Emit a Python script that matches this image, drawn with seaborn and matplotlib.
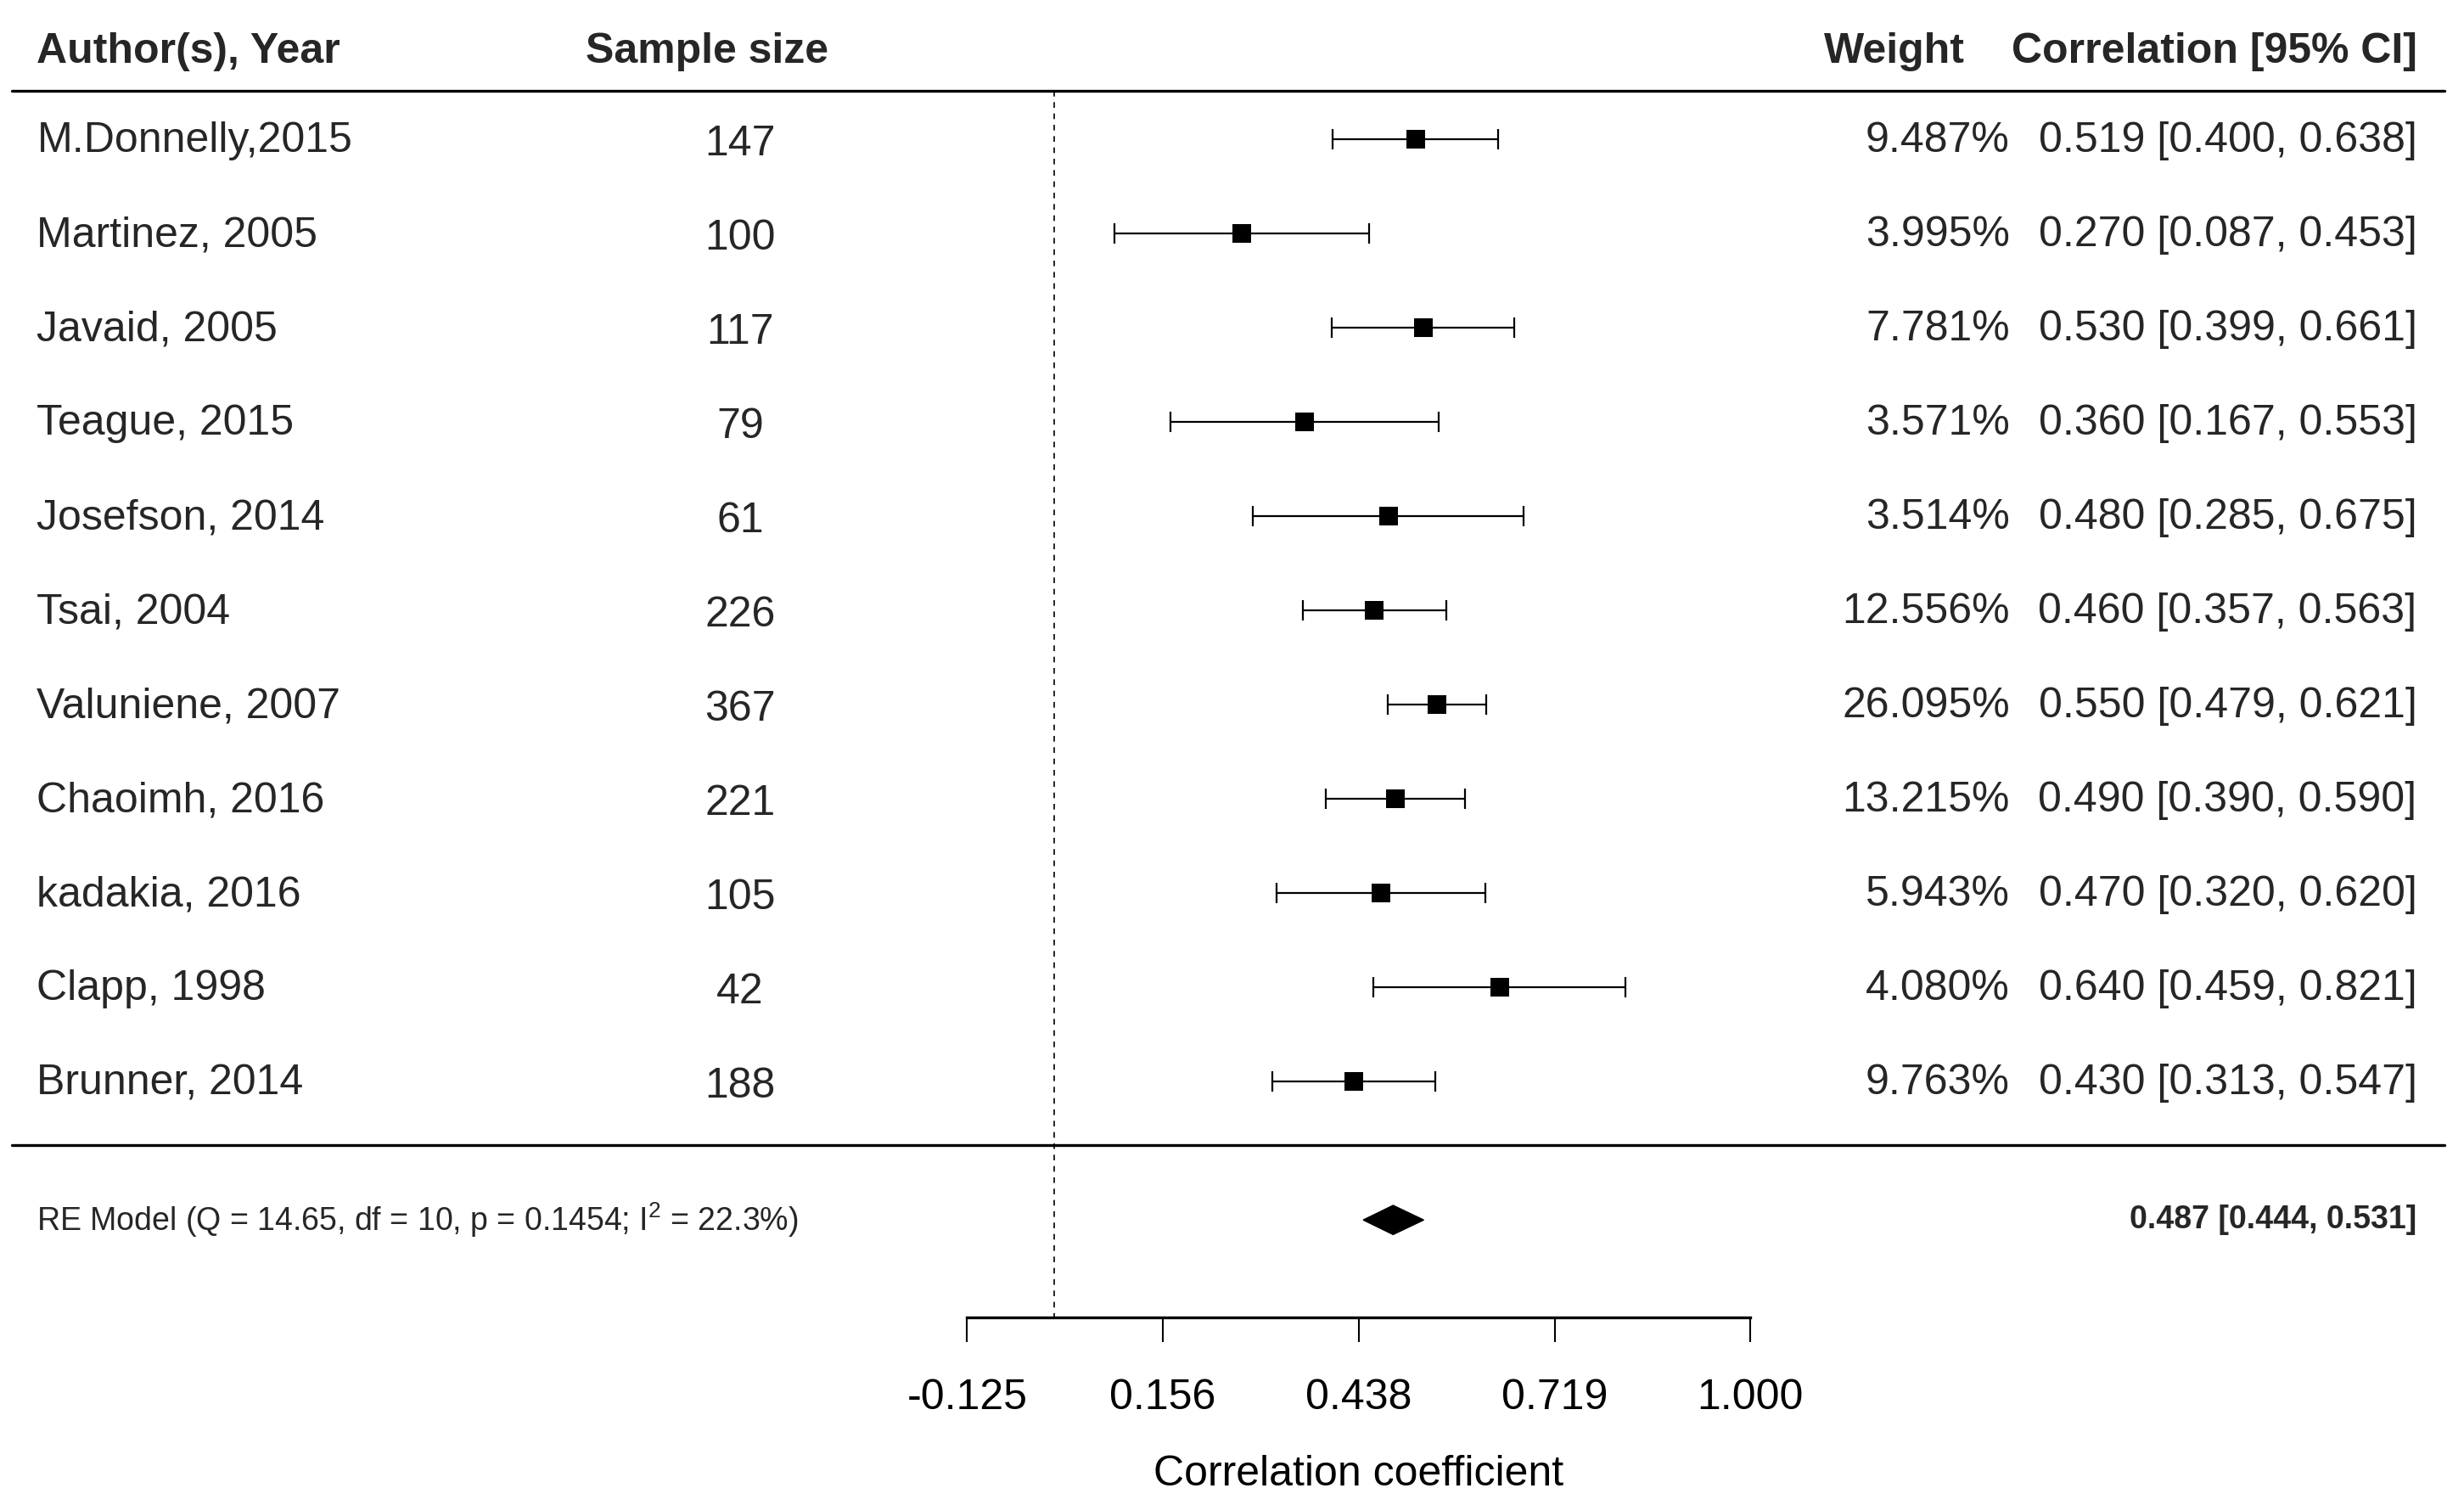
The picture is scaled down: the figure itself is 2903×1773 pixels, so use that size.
import numpy as np
import matplotlib
matplotlib.use("Agg")
import matplotlib.pyplot as plt
import seaborn as sns

# study data
authors = ["M.Donnelly,2015", "Martinez, 2005", "Javaid, 2005", "Teague, 2015",
           "Josefson, 2014", "Tsai, 2004", "Valuniene, 2007", "Chaoimh, 2016",
           "kadakia, 2016", "Clapp, 1998", "Brunner, 2014"]
sample_size = [147, 100, 117, 79, 61, 226, 367, 221, 105, 42, 188]
weights = [9.487, 3.995, 7.781, 3.571, 3.514, 12.556, 26.095, 13.215, 5.943, 4.080, 9.763]
estimate = [0.519, 0.270, 0.530, 0.360, 0.480, 0.460, 0.550, 0.490, 0.470, 0.640, 0.430]
ci_low = [0.400, 0.087, 0.399, 0.167, 0.285, 0.357, 0.479, 0.390, 0.320, 0.459, 0.313]
ci_high = [0.638, 0.453, 0.661, 0.553, 0.675, 0.563, 0.621, 0.590, 0.620, 0.821, 0.547]

summary_est = 0.487
summary_low = 0.444
summary_high = 0.531
summary_label = r"RE Model (Q = 14.65, df = 10, p = 0.1454; I$^2$ = 22.3%)"

x_ticks = [-0.125, 0.156, 0.438, 0.719, 1.000]
x_tick_labels = ["-0.125", "0.156", "0.438", "0.719", "1.000"]

sns.set_theme(style="white")
plt.rcParams["font.family"] = ["Liberation Sans", "DejaVu Sans"]
plt.rcParams["mathtext.fontset"] = "custom"
plt.rcParams["mathtext.rm"] = "Liberation Sans"
plt.rcParams["mathtext.default"] = "regular"

FS = 36
FS_SMALL = 27

k = len(authors)
rows = np.arange(k, 0, -1)
est = np.array(estimate)
lo = np.array(ci_low)
hi = np.array(ci_high)

fig = plt.figure(figsize=(29.03, 17.73), dpi=100)
ax = fig.add_axes([0, 0, 1, 1])
ax.set_xlim(-1.5146, 2.0256)
ax.set_ylim(-3.495, 12.477)

# confidence intervals and point estimates
ax.errorbar(est, rows, xerr=[est - lo, hi - est], fmt="none", ecolor="black",
            elinewidth=1.6, capsize=8.5, capthick=1.6, zorder=2)
sns.scatterplot(x=est, y=rows, marker="s", s=250, color="black", linewidth=0,
                ax=ax, zorder=3, legend=False)

# summary diamond
y_sum = -0.47
dh = 0.155
ax.fill([summary_low, summary_est, summary_high, summary_est],
        [y_sum, y_sum + dh, y_sum, y_sum - dh], color="black", zorder=3)

# horizontal rules and reference line
ax.plot([-1.498, 1.998], [11.51, 11.51], color="black", lw=2.4)
ax.plot([-1.498, 1.998], [0.324, 0.324], color="black", lw=2.4)
ax.plot([0, 0], [11.51, -1.5], color="black", lw=1.2, linestyle=(0, (4, 4)))

# headers
y_head = 11.93
ax.text(-1.4616, y_head, "Author(s), Year", fontsize=FS, fontweight="bold", ha="left", va="center")
ax.text(-0.4988, y_head, "Sample size", fontsize=FS, fontweight="bold", ha="center", va="center")
ax.text(1.3085, y_head, "Weight", fontsize=FS, fontweight="bold", ha="right", va="center")
ax.text(1.958, y_head, "Correlation [95% CI]", fontsize=FS, fontweight="bold", ha="right", va="center")

for i in range(k):
    y = rows[i] - 0.02
    ax.text(-1.4616, y, authors[i], fontsize=FS, ha="left", va="center")
    ax.text(-0.451, y - 0.03, str(sample_size[i]), fontsize=FS, ha="center", va="center")
    ax.text(1.373, y, f"{weights[i]:.3f}%", fontsize=FS, ha="right", va="center")
    ax.text(1.958, y, f"{estimate[i]:.3f} [{ci_low[i]:.3f}, {ci_high[i]:.3f}]",
            fontsize=FS, ha="right", va="center")

ax.text(-1.4616, y_sum, summary_label, fontsize=FS_SMALL, ha="left", va="center")
ax.text(1.958, y_sum, f"{summary_est:.3f} [{summary_low:.3f}, {summary_high:.3f}]",
        fontsize=FS_SMALL, fontweight="bold", ha="right", va="center")

# bottom axis
for side in ["top", "right", "left"]:
    ax.spines[side].set_visible(False)
ax.spines["bottom"].set_position(("data", -1.5))
ax.spines["bottom"].set_bounds(x_ticks[0], x_ticks[-1])
ax.spines["bottom"].set_linewidth(2.4)
ax.spines["bottom"].set_color("black")
ax.set_yticks([])
ax.set_xticks(x_ticks)
ax.set_xticklabels(x_tick_labels)
ax.tick_params(axis="x", direction="out", length=21, width=1.5, pad=31,
               labelsize=FS, colors="black", bottom=True)
ax.set_xlabel("Correlation coefficient", fontsize=FS, color="black")
ax.xaxis.label.set_va("center")
ax.xaxis.set_label_coords(0.4375, -3.17, transform=ax.transData)

fig.savefig("out.png", dpi=100, facecolor="white")
